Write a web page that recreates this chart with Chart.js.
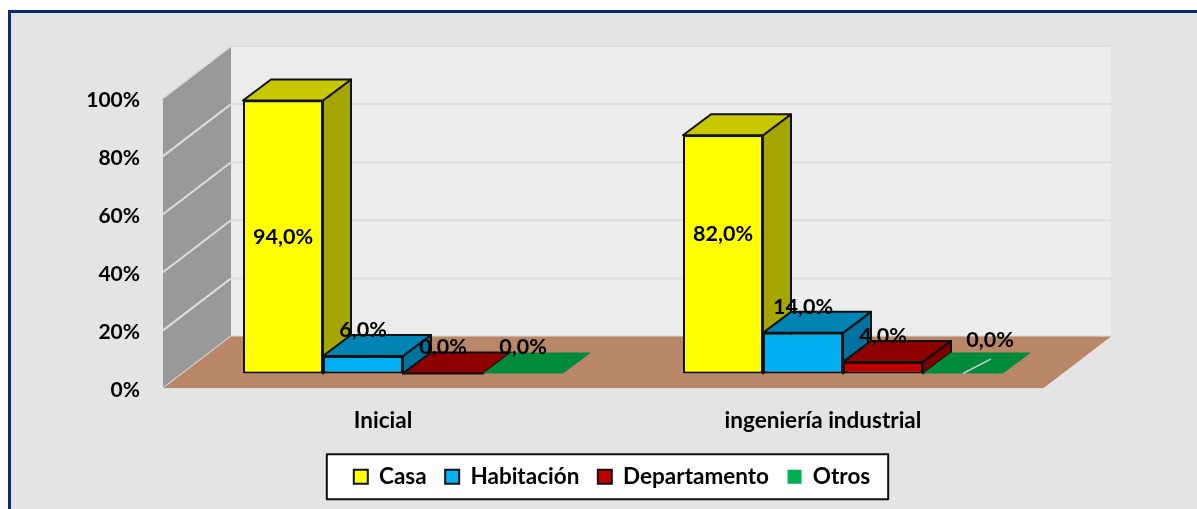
<!DOCTYPE html>
<html>
<head>
<meta charset="utf-8">
<style>
  html, body { margin: 0; padding: 0; background: #fff; overflow: hidden; }
  #frame { position: absolute; left: 8px; top: 10px; width: 1300px; height: 600px; background: #e4e4e4; border: 3px solid #0b2a73; }
  #chart { position: absolute; left: 0; top: 0; }
</style>
<script src="https://cdn.jsdelivr.net/npm/chart.js@4"></script>
</head>
<body>
<div id="frame"></div>
<canvas id="chart" width="1197" height="509"></canvas>
<script>
const categories = ["Inicial", "ingeniería industrial"];
const seriesNames = ["Casa", "Habitación", "Departamento", "Otros"];
const casa = [94, 82];
const habitacion = [6, 14];
const departamento = [0, 4];
const otros = [0, 0];

//front, top and side colour of each series
const frontColors = ["#ffff00", "#00b0f0", "#c00000", "#00b050"];
const topColors = ["#c8c800", "#0084b4", "#8f0000", "#008a3c"];
const sideColors = ["#a6a600", "#0072a0", "#800000", "#008a3c"];
const edgeColors = ["#111111", "#111111", "#111111", "transparent"];

const tickFont = { family: "Lato", weight: "bold", size: 21 };
const labelFont = { family: "Lato", weight: "bold", size: 22.5 };
const valueFont = "bold 21.5px Lato";

//how far the back wall sits behind the front of the floor
const wallDepth = { x: 68, y: -52 };
//bars stand inside the floor, not on its front edge
const barShift = { x: 20, y: -15 };
const barDepth = { x: 28, y: -21 };
//the legend is not centred on the plot in the original
const legendShift = 59;

//labels moved by hand in the original, by series then category
const labelNudge = { "0,1": [0, -20], "3,1": [27, -7] };

function poly(ctx, pts, fill, stroke, lw) {
  ctx.beginPath();
  pts.forEach((p, i) => (i ? ctx.lineTo(p[0], p[1]) : ctx.moveTo(p[0], p[1])));
  ctx.closePath();
  ctx.fillStyle = fill;
  ctx.fill();
  if (stroke) {
    ctx.strokeStyle = stroke;
    ctx.lineWidth = lw;
    ctx.lineJoin = "round";
    ctx.stroke();
  }
}

function line(ctx, x1, y1, x2, y2, color, lw) {
  ctx.beginPath();
  ctx.moveTo(x1, y1);
  ctx.lineTo(x2, y2);
  ctx.strokeStyle = color;
  ctx.lineWidth = lw;
  ctx.stroke();
}

const room3d = {
  id: "room3d",
  afterLayout(chart) {
    const lg = chart.legend;
    lg.left += legendShift;
    lg.right += legendShift;
    lg.legendHitBoxes.forEach((b) => { b.left += legendShift; });
  },
  beforeDraw(chart) {
    const ctx = chart.ctx;
    const a = chart.chartArea;
    const y = chart.scales.y;
    const dx = wallDepth.x;
    const dy = wallDepth.y;
    const y0 = y.getPixelForValue(0);
    const top = y.getPixelForValue(100);
    ctx.save();
    //back wall, left wall, floor
    poly(ctx, [[a.left + dx, top + dy], [a.right + dx, top + dy], [a.right + dx, y0 + dy], [a.left + dx, y0 + dy]], "#ececec");
    poly(ctx, [[a.left, top], [a.left + dx, top + dy], [a.left + dx, y0 + dy], [a.left, y0]], "#999999");
    y.ticks.forEach((t) => {
      const py = y.getPixelForValue(t.value);
      line(ctx, a.left + dx, py + dy, a.right + dx, py + dy, "#dcdcdc", 2);
      line(ctx, a.left, py, a.left + dx, py + dy, "#dcdcdc", 2);
    });
    poly(ctx, [[a.left, y0], [a.left + dx, y0 + dy], [a.right + dx, y0 + dy], [a.right, y0]], "#b98767");
    line(ctx, a.left, y0, a.right, y0, "#dcdcdc", 1);
    //white legend box
    const boxes = chart.legend.legendHitBoxes;
    const first = boxes[0];
    const last = boxes[boxes.length - 1];
    const lx = first.left - 27;
    const rx = last.left + last.width + 18;
    const mid = first.top + first.height / 2;
    poly(ctx, [[lx, mid - 22.5], [rx, mid - 22.5], [rx, mid + 22.5], [lx, mid + 22.5]], "#ffffff", "#111111", 2);
    ctx.restore();
  },
  beforeDatasetsDraw(chart) {
    //series have to go left to right so each top covers the side of its neighbour
    const ctx = chart.ctx;
    const dx = barDepth.x;
    const dy = barDepth.y;
    chart.getSortedVisibleDatasetMetas().forEach((meta) => {
      const i = meta.index;
      ctx.save();
      ctx.translate(barShift.x, barShift.y);
      meta.data.forEach((bar) => {
        const p = bar.getProps(["x", "y", "base", "width"], true);
        const l = p.x - p.width / 2;
        const r = p.x + p.width / 2;
        const stroke = edgeColors[i] === "transparent" ? null : edgeColors[i];
        if (p.base > p.y) {
          poly(ctx, [[r, p.y], [r + dx, p.y + dy], [r + dx, p.base + dy], [r, p.base]], sideColors[i], stroke, 2);
        }
        poly(ctx, [[l, p.y], [l + dx, p.y + dy], [r + dx, p.y + dy], [r, p.y]], topColors[i], stroke, 2);
      });
      meta.controller.draw();
      ctx.restore();
    });
    return false;
  },
  afterDraw(chart) {
    const ctx = chart.ctx;
    ctx.save();
    //grey scratch on the last green bar, it is in the original
    const green = chart.getDatasetMeta(3).data[1];
    line(ctx, green.x + barShift.x, green.base + barShift.y, green.x + barShift.x + barDepth.x, green.base + barShift.y + barDepth.y * 0.7, "#c8c8c8", 1.5);
    //value labels
    ctx.fillStyle = "#000000";
    ctx.font = valueFont;
    ctx.textAlign = "center";
    ctx.textBaseline = "middle";
    chart.getSortedVisibleDatasetMetas().forEach((meta) => {
      meta.data.forEach((bar, j) => {
        const v = chart.data.datasets[meta.index].data[j];
        const nudge = labelNudge[meta.index + "," + j] || [0, 0];
        const p = bar.getProps(["x", "y", "base"], true);
        const ly = v > 50 ? (p.y + p.base) / 2 : p.y - 26;
        ctx.fillText(v.toFixed(1).replace(".", ",") + "%", p.x + barShift.x + nudge[0], ly + barShift.y + nudge[1]);
      });
    });
    ctx.restore();
  },
};

const seriesValues = [casa, habitacion, departamento, otros];

new Chart(document.getElementById("chart"), {
  type: "bar",
  plugins: [room3d],
  data: {
    labels: categories,
    datasets: seriesNames.map((name, i) => ({
      label: name,
      data: seriesValues[i],
      backgroundColor: frontColors[i],
      borderColor: edgeColors[i],
      borderWidth: edgeColors[i] === "transparent" ? 0 : 2,
      borderSkipped: false,
      barPercentage: 1,
      categoryPercentage: 320 / 440,
    })),
  },
  options: {
    responsive: false,
    animation: false,
    layout: { padding: { left: 63, right: 154, top: 98, bottom: 11 } },
    plugins: {
      tooltip: { enabled: false },
      title: { display: false },
      legend: {
        position: "bottom",
        labels: { boxWidth: 14, boxHeight: 14, padding: 18.5, color: "#000000", font: labelFont },
      },
    },
    scales: {
      x: {
        afterFit: (s) => { s.height = 58.5; },
        grid: { display: false, drawTicks: false },
        border: { display: false },
        ticks: { color: "#000000", font: labelFont, padding: 19, maxRotation: 0 },
      },
      y: {
        min: 0,
        max: 100,
        afterFit: (s) => { s.width = 100; },
        grid: { display: false, drawTicks: false },
        border: { display: false },
        ticks: { stepSize: 20, color: "#000000", font: tickFont, padding: 23, labelOffset: 2, callback: (v) => v + "%" },
      },
    },
  },
});
</script>
</body>
</html>
